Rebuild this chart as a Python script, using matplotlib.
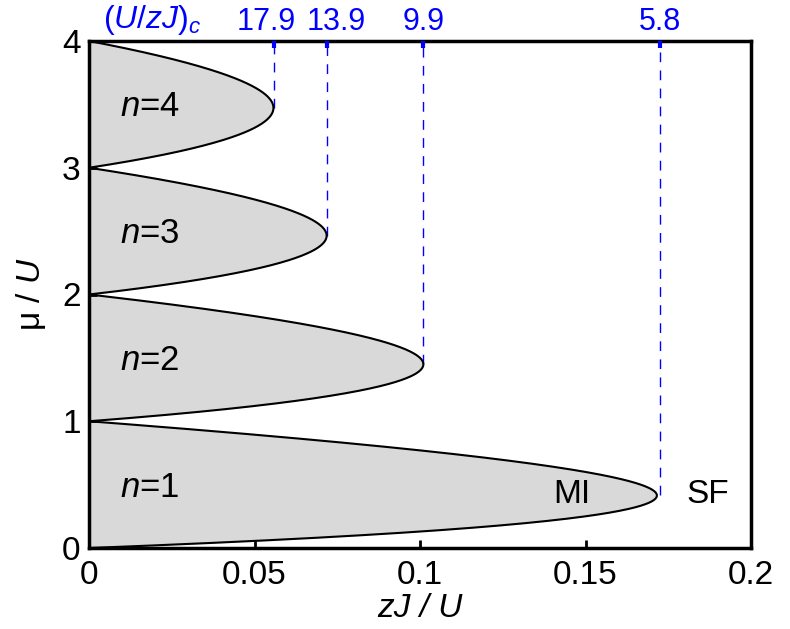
import numpy as np
import matplotlib
matplotlib.use("Agg")
import matplotlib.pyplot as plt

plt.rcParams['font.family'] = ['Liberation Sans', 'DejaVu Sans']
plt.rcParams['mathtext.fontset'] = 'custom'
plt.rcParams['mathtext.rm'] = 'Liberation Sans'
plt.rcParams['mathtext.it'] = 'Liberation Sans:italic'

# Mott lobes (filling n) and the critical ratios (U/zJ)_c at the lobe tips
fillings = [1, 2, 3, 4]
critical_ratios = [5.8, 9.9, 13.9, 17.9]
critical_labels = ["5.8", "9.9", "13.9", "17.9"]
x_ticks = [0, 0.05, 0.1, 0.15, 0.2]
x_ticklabels = ["0", "0.05", "0.1", "0.15", "0.2"]
y_ticks = [0, 1, 2, 3, 4]


def lobe_boundary(mu, n):
    # mean-field Mott-insulator boundary zJ/U as a function of mu/U
    return (n - mu) * (mu - n + 1) / (1 + mu)


fig = plt.figure(figsize=(7.9, 6.29), dpi=100)
ax = fig.add_axes([89 / 790, 1 - 548 / 629, 662 / 790, 507 / 629])

for n in fillings:
    mu = np.linspace(n - 1, n, 400)
    zj = lobe_boundary(mu, n)
    ax.fill_betweenx(mu, 0, zj, color='#d9d9d9', lw=0, zorder=1)
    ax.plot(zj, mu, color='black', lw=1.5, zorder=3)
    ax.text(0.0095, n - 0.52, r'$n$=%d' % n, fontsize=25, va='center', ha='left', zorder=4)

for n, r in zip(fillings, critical_ratios):
    mu_tip = np.sqrt(n * (n + 1)) - 1
    ax.plot([1 / r, 1 / r], [mu_tip, 4], color='blue', lw=1, ls=(0, (7, 6)), zorder=2)

ax.text(0.146, 0.42, 'MI', fontsize=24, ha='center', va='center')
ax.text(0.187, 0.42, 'SF', fontsize=24, ha='center', va='center')

ax.set_xlim(0, 0.2)
ax.set_ylim(0, 4)
ax.set_xticks(x_ticks)
ax.set_xticklabels(x_ticklabels)
ax.set_yticks(y_ticks)
ax.tick_params(direction='in', length=6, width=2, labelsize=24, top=False, right=False)
ax.tick_params(axis='x', pad=9)
ax.tick_params(axis='y', pad=6)
for s in ax.spines.values():
    s.set_linewidth(2.5)
    s.set_zorder(5)

ax.set_xlabel('zJ / U', fontsize=24, style='italic', labelpad=1)
ax.set_ylabel(r'μ $\mathit{/}$ $U$', fontsize=24, labelpad=10)

top = ax.twiny()
top.set_xlim(ax.get_xlim())
top.set_xticks([1 / r for r in critical_ratios])
top.set_xticklabels([])
top.tick_params(direction='in', length=5, width=3, color='blue')
for s in top.spines.values():
    s.set_visible(False)

# critical-ratio labels above the lobe tips, nudged apart where they crowd
nudges = {"17.9": -8, "13.9": 9}
for r, lab in zip(critical_ratios, critical_labels):
    top.annotate(lab, xy=(1 / r, 1), xycoords=('data', 'axes fraction'),
                 xytext=(nudges.get(lab, 0), 4), textcoords='offset pixels',
                 ha='center', va='bottom', color='blue', fontsize=22)

fig.text(152 / 790, 1 - 20 / 629, r'$(U/zJ)_c$', color='blue', fontsize=23,
         ha='center', va='center')

fig.savefig('out.png', dpi=100)
